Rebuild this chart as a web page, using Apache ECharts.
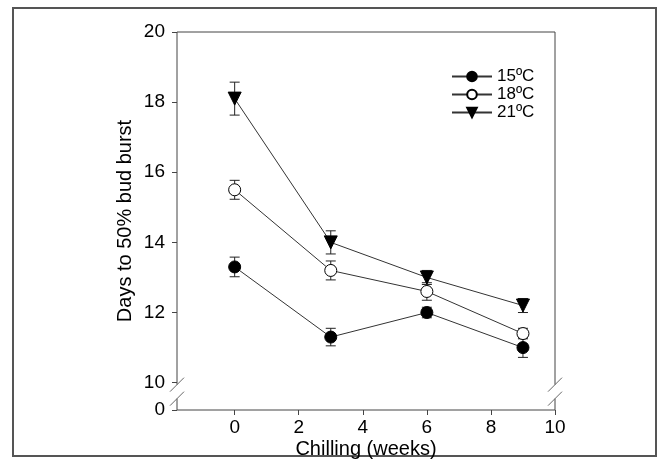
<!DOCTYPE html>
<html>
<head>
<meta charset="utf-8">
<script src="https://cdn.jsdelivr.net/npm/echarts@6/dist/echarts.min.js"></script>
<style>
html,body{margin:0;padding:0;background:#fff;}
#frame{position:absolute;left:12px;top:7px;width:641px;height:446px;border:2px solid #555;}
#chart{position:absolute;left:0;top:0;width:667px;height:463px;}
</style>
</head>
<body>
<div id="frame"></div>
<div id="chart"></div>
<script>
// ---- data ----
var weeks = [0, 3, 6, 9];
var names = ['15ºC', '18ºC', '21ºC'];
var t15 = [13.3, 11.3, 12.0, 11.0];
var e15 = [0.28, 0.25, 0.15, 0.28];
var t18 = [15.5, 13.2, 12.6, 11.4];
var e18 = [0.27, 0.27, 0.25, 0.15];
var t21 = [18.1, 14.0, 13.0, 12.2];
var e21 = [0.47, 0.33, 0.20, 0.20];
var xTicks = [0, 2, 4, 6, 8, 10];
var yTicks = [10, 12, 14, 16, 18, 20];
var yZeroPos = 9.22; // display position of the "0" label below the axis break

var FONT = 'Liberation Sans, Arial, sans-serif';
var LINE = '#333';
var AX = '#444';

function pts(vals) { return weeks.map(function (w, i) { return [w, vals[i]]; }); }
function errs(vals, e) { return weeks.map(function (w, i) { return [w, vals[i] - e[i], vals[i] + e[i]]; }); }

function errSeries(vals, e) {
  return {
    type: 'custom',
    data: errs(vals, e),
    silent: true,
    z: 1,
    renderItem: function (params, api) {
      var lo = api.coord([api.value(0), api.value(1)]);
      var hi = api.coord([api.value(0), api.value(2)]);
      var w = 5;
      var st = { stroke: '#222', lineWidth: 1 };
      return {
        type: 'group',
        children: [
          { type: 'line', shape: { x1: lo[0], y1: lo[1], x2: hi[0], y2: hi[1] }, style: st },
          { type: 'line', shape: { x1: lo[0] - w, y1: lo[1], x2: lo[0] + w, y2: lo[1] }, style: st },
          { type: 'line', shape: { x1: hi[0] - w, y1: hi[1], x2: hi[0] + w, y2: hi[1] }, style: st }
        ]
      };
    }
  };
}

function lineSeries(name, vals, symbol, fill, size, rot) {
  return {
    name: name,
    type: 'line',
    data: pts(vals),
    symbol: symbol,
    symbolSize: size,
    symbolRotate: rot || 0,
    showAllSymbol: true,
    z: 3,
    lineStyle: { color: LINE, width: 1 },
    itemStyle: { color: fill, borderColor: '#000', borderWidth: 1 },
    emphasis: { disabled: true },
    animation: false
  };
}

var chart = echarts.init(document.getElementById('chart'), null, { renderer: 'canvas' });
var option = {
  animation: false,
  grid: { left: 177, right: 112, top: 32, bottom: 53, containLabel: false, outerBoundsMode: 'none' },
  legend: {
    orient: 'vertical',
    left: 446,
    top: 63,
    itemWidth: 40,
    itemHeight: 12,
    itemGap: 1,
    textStyle: { fontFamily: FONT, fontSize: 17, color: '#000' },
    data: names
  },
  xAxis: {
    type: 'value',
    min: -1.8,
    max: 10,
    name: 'Chilling (weeks)',
    nameLocation: 'middle',
    nameGap: 29,
    nameMoveOverlap: false,
    nameTextStyle: { fontFamily: FONT, fontSize: 20, color: '#000' },
    axisLine: { show: false, onZero: false },
    splitLine: { show: false },
    axisTick: { show: true, length: 5, customValues: xTicks, lineStyle: { color: AX } },
    axisLabel: { customValues: xTicks, margin: 8, fontFamily: FONT, fontSize: 19, color: '#000' }
  },
  yAxis: {
    type: 'value',
    min: yZeroPos,
    max: 20,
    name: 'Days to 50% bud burst',
    nameLocation: 'middle',
    nameGap: 42,
    nameMoveOverlap: false,
    nameTextStyle: { fontFamily: FONT, fontSize: 20, color: '#000' },
    axisLine: { show: false, onZero: false },
    splitLine: { show: false },
    axisTick: { show: true, length: 5, customValues: [yZeroPos].concat(yTicks), lineStyle: { color: AX } },
    axisLabel: {
      customValues: [yZeroPos].concat(yTicks), margin: 12, fontFamily: FONT, fontSize: 19, color: '#000',
      formatter: function (v) { return v < 9.9 ? '0' : String(v); }
    }
  },
  series: [
    errSeries(t15, e15), errSeries(t18, e18), errSeries(t21, e21),
    lineSeries(names[0], t15, 'circle', '#000', 12),
    lineSeries(names[1], t18, 'circle', '#fff', 12),
    lineSeries(names[2], t21, 'triangle', '#000', 13, 180)
  ]
};
chart.setOption(option);

// ---- frame lines with axis break marks (layout only) ----
var tl = chart.convertToPixel({ gridIndex: 0 }, [-1.8, 20]);
var br = chart.convertToPixel({ gridIndex: 0 }, [10, yZeroPos]);
var y10 = chart.convertToPixel({ gridIndex: 0 }, [0, 10])[1];
var L = tl[0], T = tl[1], R = br[0], B = br[1];
var b1 = y10 + 2, b2 = y10 + 16, s = 7;
var st = { stroke: AX, lineWidth: 1 };
var g = [];
function ln(x1, y1, x2, y2, style) { g.push({ type: 'line', shape: { x1: x1, y1: y1, x2: x2, y2: y2 }, style: style || st, z: 10 }); }
ln(L, T, R, T);
ln(L, B, R, B);
[L, R].forEach(function (x) {
  ln(x, T, x, b1);
  ln(x, b2, x, B);
  ln(x - s, b1 + s, x + s, b1 - s, { stroke: '#666', lineWidth: 1 });
  ln(x - s, b2 + s, x + s, b2 - s, { stroke: '#666', lineWidth: 1 });
});
chart.setOption({ graphic: g });
</script>
</body>
</html>
